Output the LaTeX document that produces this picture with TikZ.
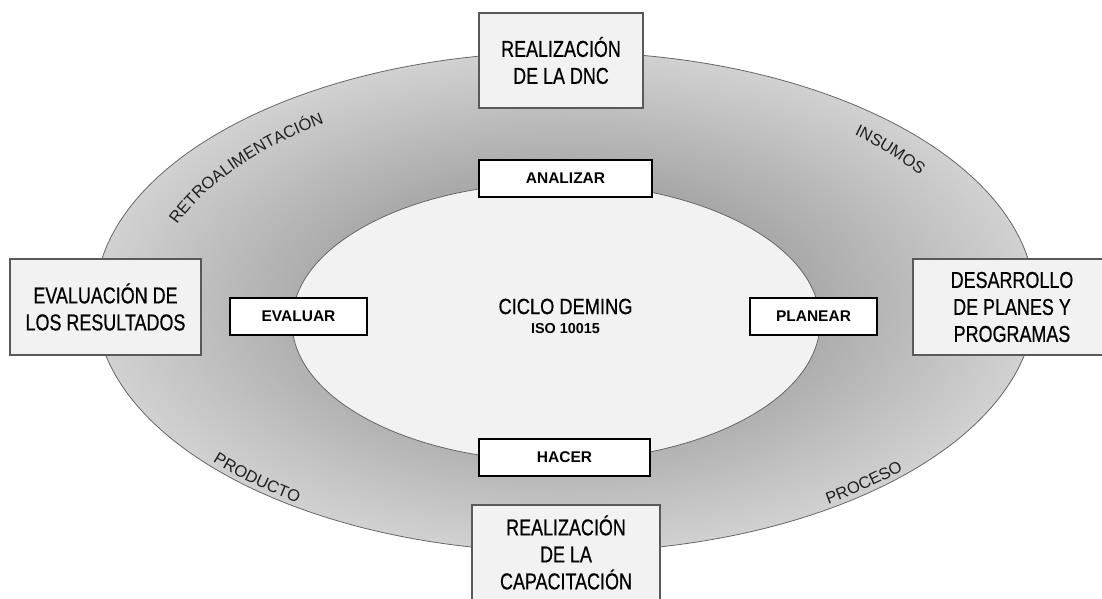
\documentclass[tikz,border=0pt]{standalone}
\usepackage{fontspec}
\setmainfont{Liberation Sans}
\newfontfamily\narrowfont[FakeStretch=0.78, FakeBold=0.6]{Liberation Sans}
\newfontfamily\demingfont[FakeStretch=0.83, FakeBold=0.6]{Liberation Sans}
\newcommand\curvefont{\fontsize{16.5}{16.5}\selectfont}
\usetikzlibrary{decorations.text}

\begin{document}
\begin{tikzpicture}[x=1pt, y=1pt,
bigbox/.style = {draw=black!65, line width=1.6pt, fill=black!5, align=center, inner sep=0pt,
                 font=\narrowfont\fontsize{23}{27}\selectfont},
stepbox/.style = {draw=black, line width=1.4pt, fill=white, inner sep=0pt, minimum height=37pt,
                  font=\fontsize{15.5}{17}\selectfont\bfseries},
ring/.style = {draw=black!60, line width=0.8pt},
curvelabel/.style = {decorate, decoration={text along path, text align=center,
                     text color=black!88, text={|\curvefont|#1}}}
                    ]
\useasboundingbox (0,0) rectangle (1102,599);
% anillo exterior y ciclo interior
\shadedraw[ring, inner color=black!50, outer color=black!18] (565,297) ellipse [x radius=470pt, y radius=250pt];
\filldraw[ring, fill=black!5] (556,277) ellipse [x radius=264pt, y radius=139pt];
%
\path[curvelabel=RETROALIMENTACIÓN, shift={(565,297)}] (173:414pt and 220pt) arc[start angle=173, end angle=117, x radius=414pt, y radius=220pt];
\path[curvelabel=INSUMOS, shift={(565,297)}] (57.5:428pt and 227pt) arc[start angle=57.5, end angle=21, x radius=428pt, y radius=227pt];
\path[curvelabel=PRODUCTO, shift={(565,297)}] (203:463pt and 246pt) arc[start angle=203, end angle=248, x radius=463pt, y radius=246pt];
\path[curvelabel=PROCESO, shift={(565,297)}] (290:463pt and 246pt) arc[start angle=290, end angle=336, x radius=463pt, y radius=246pt];
%
\node[bigbox, minimum width=164pt, minimum height=95pt] (dnc) at (561,538.5) {REALIZACIÓN\\DE LA DNC};
\node[bigbox, minimum width=191pt, minimum height=96pt] (evalres) at (105.5,292) {EVALUACIÓN DE\\LOS RESULTADOS};
\node[bigbox, minimum width=198pt, minimum height=96pt] (desarrollo) at (1012,292) {DESARROLLO\\DE PLANES Y\\PROGRAMAS};
\node[bigbox, minimum width=188pt, minimum height=95pt] (capac) at (566,46.5) {REALIZACIÓN\\DE LA\\CAPACITACIÓN};
%
    \foreach \name/\px/\py/\w/\txt in {analizar/565.5/420.5/173/ANALIZAR, evaluar/298.5/282.5/137/EVALUAR,
                                       planear/813.5/282.5/127/PLANEAR, hacer/564.5/141.5/171/HACER}
{
    \node[stepbox, minimum width=\w pt] (\name) at (\px,\py) {\txt};
}
\node[inner sep=0pt, font=\demingfont\fontsize{22}{24}\selectfont] (deming) at (565.5,292.5) {CICLO DEMING};
\node[inner sep=0pt, font=\fontsize{14.4}{16}\selectfont\bfseries] (iso) at (565.5,270.5) {ISO 10015};

\end{tikzpicture}
\end{document}
